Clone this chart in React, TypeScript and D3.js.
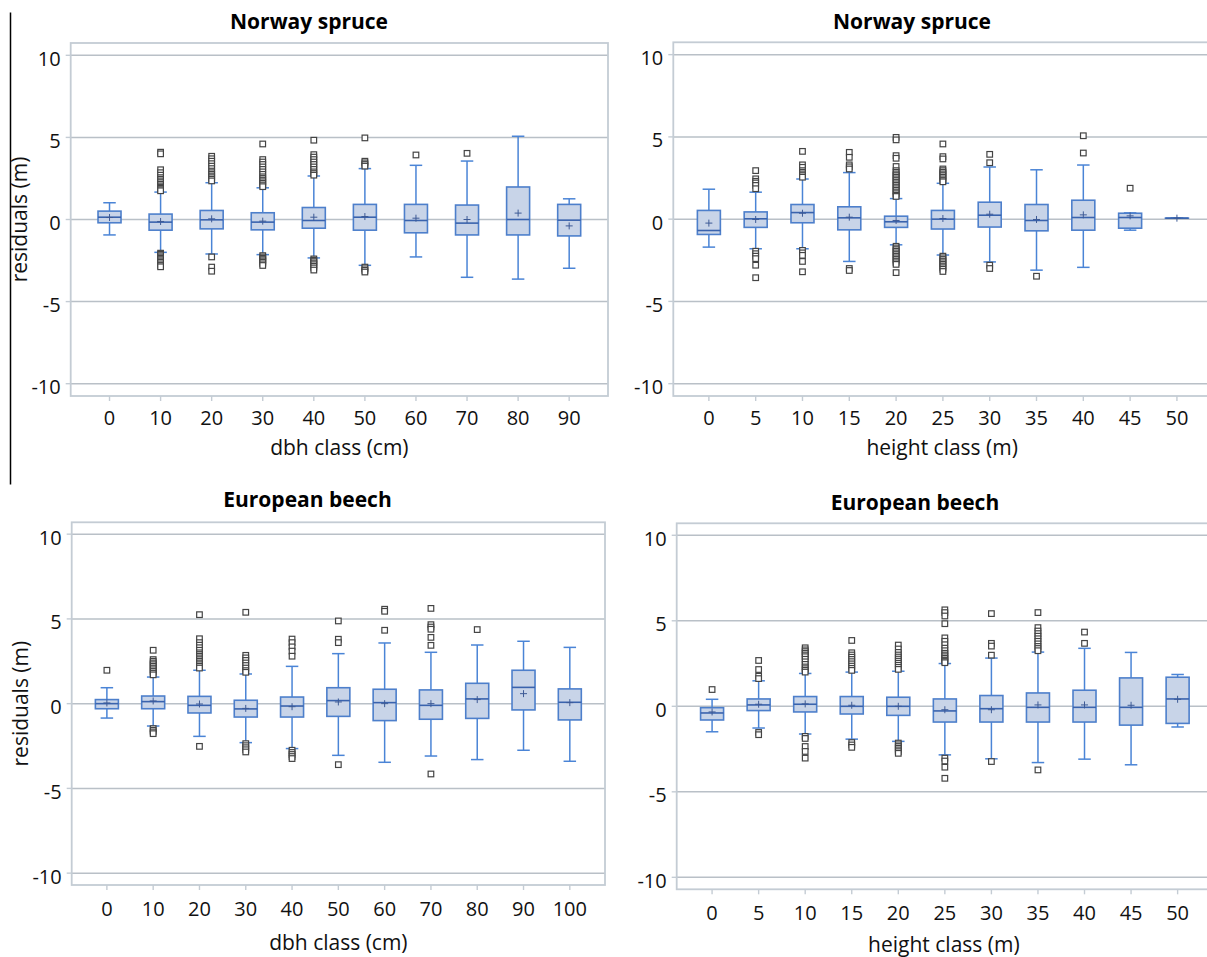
import React from "react";
import * as d3 from "d3";

// ---------- DATA ----------
// stats tuples: [whiskerLow, q1, median, q3, whiskerHigh, mean]
const spruceDbhCats = ["0", "10", "20", "30", "40", "50", "60", "70", "80", "90"];
const spruceDbhStats = [
  [-0.94, -0.2, 0.14, 0.51, 1.02, 0.12],
  [-2.0, -0.65, -0.16, 0.33, 1.67, -0.12],
  [-2.1, -0.57, -0.02, 0.55, 2.24, 0.04],
  [-2.14, -0.63, -0.16, 0.41, 1.93, -0.1],
  [-2.34, -0.53, -0.06, 0.73, 2.65, 0.14],
  [-2.79, -0.65, 0.14, 0.92, 3.1, 0.18],
  [-2.28, -0.81, -0.06, 0.92, 3.3, 0.08],
  [-3.52, -0.94, -0.22, 0.88, 3.56, 0.0],
  [-3.63, -0.94, 0.0, 1.98, 5.07, 0.39],
  [-2.97, -1.0, -0.04, 0.92, 1.26, -0.39],
];
const spruceDbhOutliers = [
  [],
  [4.1, 4.0, 3.03, 2.85, 2.7, 2.55, 2.45, 2.35, 2.25, 2.15, 2.05, 1.97, 1.9, 1.82, 1.75, -2.05, -2.12, -2.2, -2.28, -2.36, -2.44, -2.52, -2.6, -2.7, -2.8, -2.88],
  [3.85, 3.7, 3.55, 3.4, 3.25, 3.1, 2.95, 2.85, 2.75, 2.65, 2.55, 2.45, 2.35, -2.28, -2.9, -3.15],
  [4.6, 3.65, 3.5, 3.35, 3.2, 3.05, 2.9, 2.75, 2.6, 2.5, 2.4, 2.3, 2.2, 2.1, 2.0, -2.2, -2.28, -2.36, -2.44, -2.52, -2.6, -2.7, -2.8],
  [4.83, 3.95, 3.8, 3.65, 3.5, 3.35, 3.2, 3.05, 2.9, 2.8, 2.7, -2.4, -2.48, -2.56, -2.65, -2.75, -2.85, -2.95, -3.08],
  [4.97, 3.55, 3.45, 3.35, 3.25, -2.9, -3.0, -3.1, -3.2],
  [3.93],
  [4.03],
  [],
  [],
];

const spruceHtCats = ["0", "5", "10", "15", "20", "25", "30", "35", "40", "45", "50"];
const spruceHtStats = [
  [-1.7, -0.93, -0.69, 0.53, 1.82, -0.24],
  [-1.8, -0.5, 0.02, 0.44, 1.64, -0.02],
  [-1.8, -0.22, 0.4, 0.89, 2.44, 0.36],
  [-2.57, -0.65, 0.08, 0.75, 2.83, 0.12],
  [-1.56, -0.5, -0.16, 0.18, 1.25, -0.08],
  [-2.18, -0.6, 0.0, 0.53, 2.18, 0.04],
  [-2.6, -0.48, 0.24, 1.03, 3.17, 0.3],
  [-3.1, -0.71, -0.08, 0.89, 3.0, -0.02],
  [-2.93, -0.67, 0.1, 1.15, 3.29, 0.26],
  [-0.67, -0.55, 0.1, 0.36, 0.38, 0.2],
  [0.06, 0.06, 0.06, 0.06, 0.06, 0.06],
];
const spruceHtOutliers = [
  [],
  [2.95, 2.45, 2.3, 2.2, 2.05, 1.85, -1.95, -2.1, -2.25, -2.4, -2.8, -3.56],
  [4.12, 3.3, 3.15, 2.95, 2.85, 2.75, 2.65, 2.55, -1.9, -2.05, -2.2, -2.57, -3.2],
  [4.06, 3.76, 3.3, 3.18, 3.05, -3.0, -3.12],
  [4.97, 4.82, 3.86, 3.7, 3.2, 2.95, 2.85, 2.75, 2.65, 2.55, 2.45, 2.35, 2.25, 2.15, 2.05, 1.95, 1.85, 1.75, 1.65, 1.55, 1.45, 1.38, -1.65, -1.75, -1.85, -1.95, -2.05, -2.15, -2.25, -2.35, -2.45, -2.55, -2.65, -2.75, -3.25],
  [4.57, 3.8, 3.66, 3.05, 2.95, 2.85, 2.75, 2.65, 2.55, 2.45, 2.35, 2.27, -2.25, -2.35, -2.45, -2.55, -2.65, -2.75, -2.85, -2.95, -3.05, -3.18],
  [3.94, 3.43, -2.8, -3.0],
  [-3.47],
  [5.07, 4.02],
  [1.88],
  [],
];

const beechDbhCats = ["0", "10", "20", "30", "40", "50", "60", "70", "80", "90", "100"];
const beechDbhStats = [
  [-0.85, -0.3, 0.0, 0.24, 0.94, 0.04],
  [-1.32, -0.3, 0.12, 0.45, 1.57, 0.16],
  [-1.93, -0.55, -0.1, 0.43, 1.97, -0.02],
  [-2.3, -0.79, -0.31, 0.2, 1.75, -0.28],
  [-2.65, -0.79, -0.14, 0.39, 2.2, -0.18],
  [-3.05, -0.75, 0.18, 0.94, 2.95, 0.1],
  [-3.46, -1.0, 0.06, 0.85, 3.58, 0.0],
  [-3.09, -0.92, -0.1, 0.81, 3.03, 0.0],
  [-3.3, -0.87, 0.28, 1.2, 3.46, 0.24],
  [-2.75, -0.37, 0.96, 1.97, 3.68, 0.59],
  [-3.4, -0.96, 0.08, 0.87, 3.32, 0.06],
];
const beechDbhOutliers = [
  [1.97],
  [3.15, 2.6, 2.5, 2.4, 2.3, 2.2, 2.1, 2.0, 1.9, 1.8, 1.7, -1.47, -1.57, -1.67, -1.77],
  [5.25, 3.83, 3.6, 3.45, 3.3, 3.15, 3.0, 2.9, 2.8, 2.7, 2.6, 2.5, 2.4, 2.3, 2.2, 2.1, -2.52],
  [5.39, 2.85, 2.7, 2.55, 2.4, 2.25, 2.1, 1.95, 1.85, -2.36, -2.48, -2.6, -2.72, -2.85],
  [3.81, 3.6, 3.35, 3.1, 2.8, -2.75, -2.88, -3.0, -3.12, -3.24],
  [4.88, 3.8, 3.6, -3.6],
  [5.57, 5.45, 4.33],
  [5.62, 4.66, 4.52, 4.39, 3.91, 3.44, -4.15],
  [4.37],
  [],
  [],
];

const beechHtCats = ["0", "5", "10", "15", "20", "25", "30", "35", "40", "45", "50"];
const beechHtStats = [
  [-1.49, -0.8, -0.39, -0.08, 0.41, -0.33],
  [-1.27, -0.25, 0.08, 0.43, 1.49, 0.12],
  [-1.62, -0.33, 0.12, 0.57, 1.92, 0.14],
  [-1.92, -0.45, 0.0, 0.57, 2.0, 0.06],
  [-2.05, -0.53, 0.0, 0.53, 2.05, 0.0],
  [-2.84, -0.92, -0.27, 0.43, 2.5, -0.2],
  [-3.07, -0.92, -0.14, 0.63, 2.82, -0.2],
  [-3.29, -0.92, -0.06, 0.78, 3.17, 0.08],
  [-3.09, -0.92, -0.06, 0.94, 3.39, 0.08],
  [-3.42, -1.1, -0.06, 1.66, 3.15, 0.06],
  [-1.21, -1.0, 0.43, 1.7, 1.86, 0.41],
];
const beechHtOutliers = [
  [0.98],
  [2.68, 2.15, 1.76, 1.62, -1.53, -1.66],
  [3.42, 3.3, 3.2, 3.1, 3.0, 2.9, 2.75, 2.6, 2.45, 2.3, 2.2, 2.1, 2.0, -1.76, -1.88, -2.35, -2.64, -3.03],
  [3.85, 3.13, 3.0, 2.87, 2.74, 2.61, 2.48, 2.35, 2.22, 2.1, -2.12, -2.26, -2.4],
  [3.58, 3.35, 3.15, 3.0, 2.88, 2.76, 2.64, 2.52, 2.4, 2.28, 2.16, -2.15, -2.25, -2.35, -2.45, -2.55, -2.65, -2.75],
  [5.64, 5.48, 5.28, 4.83, 4.0, 3.8, 3.6, 3.4, 3.25, 3.1, 3.0, 2.9, 2.8, 2.7, 2.62, 2.55, -3.03, -3.2, -3.56, -4.21],
  [5.42, 3.68, 3.52, 2.99, -3.23],
  [5.48, 4.6, 4.4, 4.25, 4.1, 3.95, 3.8, 3.65, 3.5, 3.38, 3.25, -3.72],
  [4.34, 3.68],
  [],
  [],
];

const yTicks = [-10, -5, 0, 5, 10];
const titles = ["Norway spruce", "Norway spruce", "European beech", "European beech"];
const xTitles = ["dbh class (cm)", "height class (m)", "dbh class (cm)", "height class (m)"];
const yTitle = "residuals (m)";

// ---------- LAYOUT ----------
const panels = [
  { cats: spruceDbhCats, stats: spruceDbhStats, outliers: spruceDbhOutliers, left: 70.7, right: 608, top: 43, bottom: 396, dom: 10.75, titleX: 309, titleY: 28.5, tickDy: 29, labDy: 59, yLab: true, yLabX: 26.5 },
  { cats: spruceHtCats, stats: spruceHtStats, outliers: spruceHtOutliers, left: 673.3, right: 1212.5, top: 42.3, bottom: 396, dom: 10.75, titleX: 912, titleY: 28.5, tickDy: 29, labDy: 59, yLab: false, yLabX: 0 },
  { cats: beechDbhCats, stats: beechDbhStats, outliers: beechDbhOutliers, left: 71.7, right: 605, top: 522.3, bottom: 885, dom: 10.7, titleX: 307.5, titleY: 507, tickDy: 31, labDy: 65, yLab: true, yLabX: 28 },
  { cats: beechHtCats, stats: beechHtStats, outliers: beechHtOutliers, left: 676.7, right: 1213, top: 523.3, bottom: 889.3, dom: 10.7, titleX: 915, titleY: 509.5, tickDy: 31, labDy: 63, yLab: false, yLabX: 0 },
];

const FONT = "'Open Sans', 'DejaVu Sans', sans-serif";
const GRID = "#b9c0c7";
const FRAME = "#c4ccd4";
const BOX_FILL = "#c8d4e8";
const BOX_STROKE = "#4d7fcb";
const WHISK = "#4a84d6";
const MED = "#3a63ad";
const MEAN = "#3d5a96";
const OUT = "#444";

function Panel({ p, i }: { p: any; i: number }) {
  const x = d3.scalePoint<string>().domain(p.cats).range([p.left, p.right]).padding(0.76);
  const y = d3.scaleLinear().domain([-p.dom, p.dom]).range([p.bottom, p.top]);
  const bw = 23;
  const cap = 12.5;
  const sq = 5.6;
  return (
    <g>
      <text x={p.titleX} y={p.titleY} textAnchor="middle" fontFamily={FONT} fontWeight="bold" fontSize={21} fill="#000">
        {titles[i]}
      </text>
      {yTicks.map((t) => (
        <line key={"g" + t} x1={p.left} x2={p.right} y1={y(t)} y2={y(t)} stroke={GRID} strokeWidth={1.5} />
      ))}
      <rect x={p.left} y={p.top} width={p.right - p.left} height={p.bottom - p.top} fill="none" stroke={FRAME} strokeWidth={1.8} />
      {yTicks.map((t) => (
        <g key={"yt" + t}>
          <line x1={p.left - 5} x2={p.left} y1={y(t)} y2={y(t)} stroke={FRAME} strokeWidth={1.4} />
          <text x={p.left - 10} y={y(t) + 10.5} textAnchor="end" fontFamily={FONT} fontSize={20} fill="#111">
            {t}
          </text>
        </g>
      ))}
      {p.cats.map((c: string) => (
        <g key={"xt" + c}>
          <line x1={x(c)} x2={x(c)} y1={p.bottom} y2={p.bottom + 5} stroke={FRAME} strokeWidth={1.4} />
          <text x={x(c)} y={p.bottom + p.tickDy} textAnchor="middle" fontFamily={FONT} fontSize={20} fill="#111">
            {c}
          </text>
        </g>
      ))}
      <text x={(p.left + Math.min(p.right, 1207)) / 2 + (i % 2 === 1 ? 2 : 0)} y={p.bottom + p.labDy} textAnchor="middle" fontFamily={FONT} fontSize={21} fill="#111">
        {xTitles[i]}
      </text>
      {p.yLab && (
        <text
          transform={`translate(${p.yLabX},${(p.top + p.bottom) / 2}) rotate(-90)`}
          textAnchor="middle"
          fontFamily={FONT}
          fontSize={21}
          fill="#111"
        >
          {yTitle}
        </text>
      )}
      {p.cats.map((c: string, k: number) => {
        const [lo, q1, med, q3, hi, mean] = p.stats[k];
        const cx = x(c) as number;
        return (
          <g key={"b" + c}>
            <line x1={cx} x2={cx} y1={y(hi)} y2={y(q3)} stroke={WHISK} strokeWidth={1.5} />
            <line x1={cx} x2={cx} y1={y(q1)} y2={y(lo)} stroke={WHISK} strokeWidth={1.5} />
            <line x1={cx - cap / 2} x2={cx + cap / 2} y1={y(hi)} y2={y(hi)} stroke={WHISK} strokeWidth={1.5} />
            <line x1={cx - cap / 2} x2={cx + cap / 2} y1={y(lo)} y2={y(lo)} stroke={WHISK} strokeWidth={1.5} />
            <rect x={cx - bw / 2} y={y(q3)} width={bw} height={Math.max(0.01, y(q1) - y(q3))} fill={BOX_FILL} stroke={BOX_STROKE} strokeWidth={1.6} />
            <line x1={cx - bw / 2} x2={cx + bw / 2} y1={y(med)} y2={y(med)} stroke={MED} strokeWidth={1.6} />
            <line x1={cx - 3.5} x2={cx + 3.5} y1={y(mean)} y2={y(mean)} stroke={MEAN} strokeWidth={1} />
            <line x1={cx} x2={cx} y1={y(mean) - 3.5} y2={y(mean) + 3.5} stroke={MEAN} strokeWidth={1} />
            {p.outliers[k].map((v: number, j: number) => (
              <rect key={j} x={cx - sq / 2} y={y(v) - sq / 2} width={sq} height={sq} fill="white" stroke={OUT} strokeWidth={1.2} />
            ))}
          </g>
        );
      })}
    </g>
  );
}

export default function App() {
  return (
    <svg width={1207} height={957} style={{ position: "absolute", left: 0, top: 0, background: "#fff" }}>
      <rect x={0} y={0} width={1207} height={957} fill="#fff" />
      <line x1={10.5} x2={10.5} y1={12.5} y2={484.5} stroke="#000" strokeWidth={1.5} />
      {panels.map((p, i) => (
        <Panel key={i} p={p} i={i} />
      ))}
    </svg>
  );
}
